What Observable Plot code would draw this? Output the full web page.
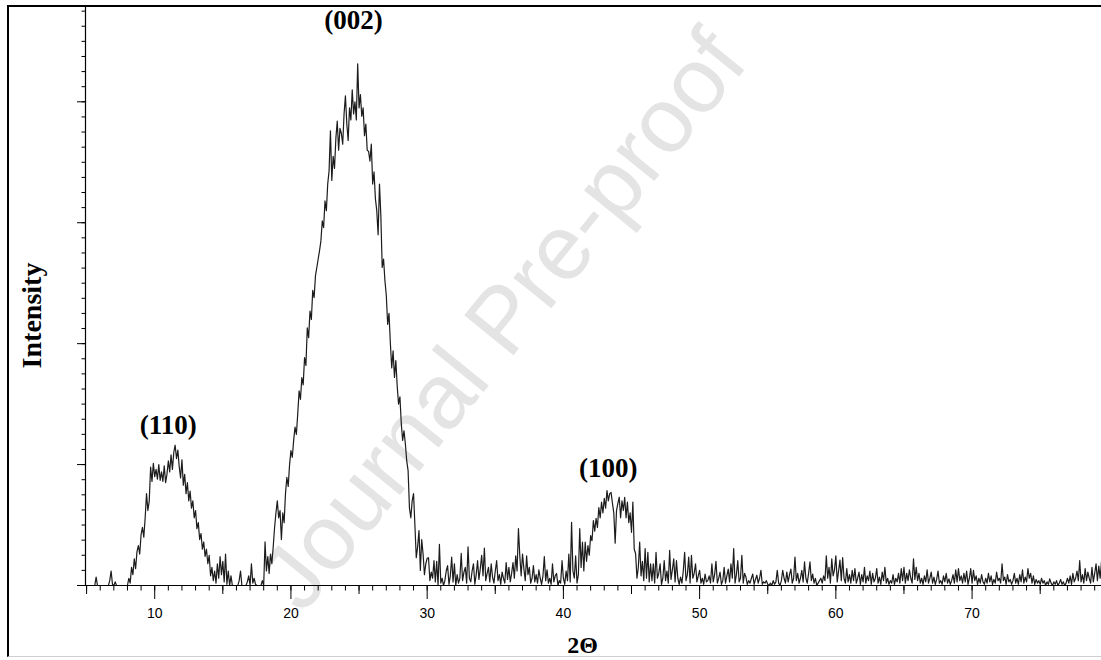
<!DOCTYPE html>
<html><head><meta charset="utf-8">
<script src="https://cdn.jsdelivr.net/npm/d3@7"></script>
<script src="https://cdn.jsdelivr.net/npm/@observablehq/plot@0.6"></script>
<style>
html,body{margin:0;padding:0;background:#fff;}
#wrap{position:relative;width:1101px;height:660px;overflow:hidden;background:#fff;}
#chart{position:absolute;left:0;top:0;}
#frame{position:absolute;left:7px;top:5px;width:1120px;height:652px;border-left:2px solid #000;border-top:2px solid #000;border-bottom:1px solid #cfcfcf;box-sizing:border-box;pointer-events:none;}
</style></head>
<body><div id="wrap"><div id="chart"></div><div id="frame"></div></div>
<script>
// XRD pattern, 2θ step 0.1°, intensities (arbitrary counts)
const seg1Start = 5.0;
const seg1 = [0,0,0,0,0,0,0,70,0,0, 0,0,0,0,0,0,0,40,120,10, 0,30,0,0,0,0,0,0,0,0];
const seg2Start = 8.0; // (110) peak
const seg2 = [
  0,60,20,150,90,220,140,280,330,260,
  420,480,400,560,760,620,700,980,860,1010,
  900,960,880,1000,870,940,860,990,850,920,
  1030,940,1080,960,1100,1160,1050,1120,980,890,
  1040,830,920,760,850,700,780,640,700,560,
  620,470,520,380,430,300,360,240,300,180,
  250,80,150,40,120,20,180,60,240,90,
  200,30,260,10,120,0,80,0,0,0,
  0,0,40,120,0,0,0,0,30,80,
  0,180,20,60,10,0,0,0,0,40];
const seg3Start = 18.0; // (002) peak
const seg3 = [
  0,360,120,240,100,260,180,320,480,600,
  700,560,620,380,600,520,760,895,820,1000,
  1115,1060,1200,1310,1250,1420,1610,1540,1720,1660,
  1885,1820,2130,2050,2270,2200,2440,2380,2560,2630,
  2700,2770,2850,3015,2960,3180,3100,3320,3430,3760,
  3350,3550,3450,3700,3840,3600,3780,3740,3650,3900,
  4050,3820,3680,3950,3850,4100,3900,4000,3850,4315,
  3950,4060,3880,3950,3720,3815,3600,3590,3510,3650,
  3320,3420,3200,3100,2900,3320,3060,2630,2700,2520,
  2400,2160,2250,2000,1800,1940,1720,1860,1650,1500,
  1560,1340,1200,1280,1170,1030,950,640,560,700,
  760,500,230,320,455,125,380,260,90,180,
  225,230,40,110,60];
const seg4Start = 30.5; // background
const seg4 = [
  205,30,200,0,340,
  20,60,0,40,120,165,10,80,235,30,
  180,0,90,20,60,265,40,110,150,20,
  320,60,30,120,180,10,90,205,50,140,
  250,80,310,40,100,150,30,180,70,20,
  120,205,40,90,10,110,60,20,190,50,
  150,30,100,190,60,245,120,470,245,80,
  260,140,40,245,90,150,20,60,165,30,
  90,20,130,60,10,80,240,40,130,20,
  60,10,180,30,80,100,0,40,20,205,
  60,10,120,40,260];
const seg5Start = 40.5; // (100) peak
const seg5 = [
  30,523,120,60,245,
  20,90,470,150,358,120,358,200,330,250,
  413,370,537,450,555,480,645,560,690,600,
  720,640,785,700,760,770,680,600,350,620,
  680,730,560,700,620,730,560,690,520,600,
  440,690,300,265,60,150,358,80,200,40,
  305,60,275,30,180];
const seg6Start = 46.5; // background
const seg6 = [
  40,180,20,275,60,
  100,180,10,60,205,40,120,20,290,50,
  130,220,30,205,60,10,70,20,120,275,
  40,90,235,20,250,60,100,180,30,80,
  125,20,60,10,95,30,40,80,20,180,
  30,90,200,20,60,110,10,40,150,20,
  80,135,30,180,60,305,20,90,205,30,
  60,250,20,100,70,10,40,20,60,95,
  10,50,85,20,60,125,10,30,20,40,
  10,0,20,0,40,10,30,125,20,0,
  40,125,60,20,110,30,90,135,20,60,
  235,40,100,20,60,125,30,195,60,20,
  100,195,40,95,20,60,0,20,40,60,
  20,80,40,245,60,150,20,220,80,130];
const seg7Start = 60.0; // background
const seg7 = [
  245,30,120,210,40,230,60,20,140,30,
  90,20,125,40,140,20,60,110,10,90,
  30,150,20,80,40,120,10,100,30,60,
  140,20,70,10,110,40,150,20,60,10,
  40,20,90,10,60,30,100,20,140,40,
  150,20,100,40,130,60,20,220,50,150,
  40,100,20,60,10,80,30,130,20,60,
  110,20,70,10,50,120,20,40,10,80,
  30,100,20,55,10,40,90,20,130,30,
  140,40,80,20,100,30,120,10,60,140,
  20,125,40,80,10,60,20,90,30,10,
  60,20,100,30,80,10,50,20,110,40,
  60,20,180,40,70,10,90,30,50,10,
  40,100,20,60,10,90,30,130,20,70,
  30,140,60,100,20,80,10,50,20,40,
  10,60,20,40,0,30,10,55,20,0,
  30,10,40,0,20,50,10,30,0,20,
  60,20,80,10,100,30,60,120,40,205,
  30,90,20,140,40,110,60,20,150,30,
  100,180,40,160,60,200,80];

const peakLabels = ["(110)", "(002)", "(100)"];
const peakLabelX = [11.0, 24.6, 43.3];
const peakLabelY = [1327, 4677, 972];

const xMajorTicks = [10, 20, 30, 40, 50, 60, 70];
const xMidTicks = [5, 15, 25, 35, 45, 55, 65, 75];
const xMinorTicks = d3.range(5, 80, 1);
const yMajorTicks = [0, 1000, 2000, 3000, 4000];
const yMinorTicks = d3.range(0, 4751, 125);
const xDomain = [4.92, 79.5];
const yDomain = [0, 4780];

const segments = [[seg1Start, seg1],[seg2Start, seg2],[seg3Start, seg3],[seg4Start, seg4],[seg5Start, seg5],[seg6Start, seg6],[seg7Start, seg7]];
const data = segments.flatMap(([s, vals]) => vals.map((v, i) => ({angle: Math.round(s * 10 + i) / 10, intensity: v})));

const serif = "'Liberation Serif', 'Times New Roman', serif";
const sans = "'Liberation Sans', Arial, sans-serif";

const chart = Plot.plot({
  width: 1101, height: 660,
  marginLeft: 85, marginRight: 0, marginTop: 7, marginBottom: 75,
  x: {domain: xDomain, label: null},
  y: {domain: yDomain, label: null},
  style: {background: "transparent", fontFamily: sans, fontSize: "14px", color: "#000"},
  marks: [
    Plot.text(["Journal Pre-proof"], {frameAnchor: "middle", text: d => d, rotate: -51, fontSize: 92, fill: "#e4e4e4", fontFamily: sans, dx: -90, dy: 24, lineAnchor: "middle"}),
    Plot.line(data, {x: "angle", y: "intensity", stroke: "#1c1c1c", strokeWidth: 1.2, clip: true}),
    Plot.ruleY([yDomain[0]], {stroke: "#000", strokeWidth: 1.2}),
    Plot.ruleX([xDomain[0]], {stroke: "#000", strokeWidth: 1.2}),
    Plot.axisX(xMinorTicks, {anchor: "bottom", tickSize: 5.5, tickFormat: () => "", label: null}),
    Plot.axisX(xMidTicks, {anchor: "bottom", tickSize: 9, tickFormat: () => "", label: null}),
    Plot.axisX(xMajorTicks, {anchor: "bottom", tickSize: 14, tickPadding: 9, label: null, fontSize: 14, fontFamily: sans}),
    Plot.axisY(yMinorTicks, {anchor: "left", tickSize: 3.5, tickFormat: () => "", label: null}),
    Plot.axisY(yMajorTicks, {anchor: "left", tickSize: 8, tickFormat: () => "", label: null}),
    Plot.text(peakLabels, {x: (d, i) => peakLabelX[i], y: (d, i) => peakLabelY[i], text: d => d, fontSize: 27, fontWeight: "bold", fontFamily: serif, lineAnchor: "middle", fill: "#000"}),
    Plot.text(["Intensity"], {frameAnchor: "left", text: d => d, rotate: -90, dx: -53, dy: 19, fontSize: 28, fontWeight: "bold", fontFamily: serif, lineAnchor: "middle", textAnchor: "middle", fill: "#000"}),
    Plot.text(["2Θ"], {frameAnchor: "bottom", text: d => d, dx: -11, dy: 60, fontSize: 24, fontWeight: "bold", fontFamily: serif, lineAnchor: "middle", fill: "#000"})
  ]
});
document.getElementById("chart").appendChild(chart);
</script>
</body></html>
